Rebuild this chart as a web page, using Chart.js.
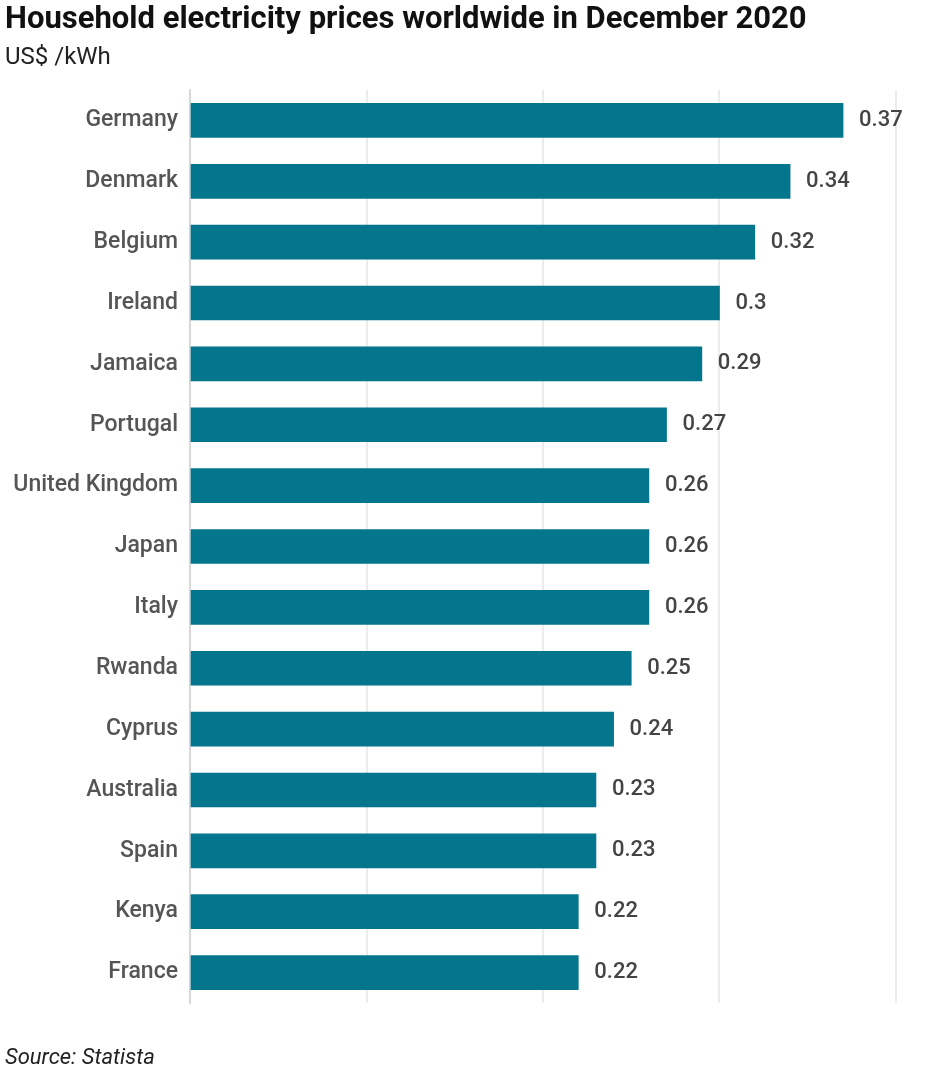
<!DOCTYPE html>
<html lang="en">
<head>
  <meta charset="UTF-8">
  <title>Household electricity prices worldwide in December 2020</title>
  <script src="https://cdn.jsdelivr.net/npm/chart.js"></script>
  <style>
    html, body { margin: 0; padding: 0; background: #fff; }
    #wrap { width: 942px; height: 1090px; }
  </style>
</head>
<body>
  <div id="wrap"><canvas id="chart"></canvas></div>
  <script>
    const countries = ['Germany', 'Denmark', 'Belgium', 'Ireland', 'Jamaica', 'Portugal',
      'United Kingdom', 'Japan', 'Italy', 'Rwanda', 'Cyprus', 'Australia', 'Spain', 'Kenya', 'France'];
    const prices = [0.37, 0.34, 0.32, 0.3, 0.29, 0.27, 0.26, 0.26, 0.26, 0.25, 0.24, 0.23, 0.23, 0.22, 0.22];
    const xTicks = [0, 0.1, 0.2, 0.3, 0.4];

    const FONT = 'Roboto, "Noto Sans", sans-serif';

    // value labels to the right of each bar
    const valueLabels = {
      id: 'valueLabels',
      afterDatasetsDraw(chart) {
        const ctx = chart.ctx;
        const meta = chart.getDatasetMeta(0);
        ctx.save();
        ctx.font = '500 22px ' + FONT;
        ctx.fillStyle = '#444';
        ctx.textBaseline = 'middle';
        meta.data.forEach((bar, i) => {
          ctx.fillText(String(prices[i]), bar.x + 16, bar.y);
        });
        ctx.restore();
      }
    };

    const sourceNote = {
      id: 'sourceNote',
      afterDraw(chart) {
        const ctx = chart.ctx;
        ctx.save();
        ctx.font = 'italic 22px ' + FONT;
        ctx.fillStyle = '#222';
        ctx.textBaseline = 'middle';
        ctx.fillText('Source: Statista', 5, 1058);
        ctx.restore();
      }
    };

    new Chart(document.getElementById('chart'), {
      type: 'bar',
      data: {
        labels: countries,
        datasets: [{
          data: prices,
          backgroundColor: '#03758c',
          barThickness: 34
        }]
      },
      options: {
        indexAxis: 'y',
        responsive: true,
        maintainAspectRatio: false,
        animation: false,
        layout: { padding: { left: 5, right: 46, top: 0, bottom: 87 } },
        plugins: {
          legend: { display: false },
          tooltip: { enabled: false },
          title: {
            display: true,
            text: 'Household electricity prices worldwide in December 2020',
            align: 'start',
            color: '#111',
            font: { family: FONT, size: 31, weight: 'bold' },
            padding: { top: 2, bottom: 2 }
          },
          subtitle: {
            display: true,
            text: 'US$ /kWh',
            align: 'start',
            color: '#222',
            font: { family: FONT, size: 24 },
            padding: { top: 2, bottom: 18 }
          }
        },
        scales: {
          x: {
            min: xTicks[0],
            max: xTicks[xTicks.length - 1],
            afterBuildTicks(scale) { scale.ticks = xTicks.map(v => ({ value: v })); },
            afterFit(scale) { scale.height = 0; },
            ticks: { display: false },
            border: { display: false },
            grid: { color: '#ececec', lineWidth: 2, drawTicks: false }
          },
          y: {
            afterFit(scale) { scale.width = 185; },
            ticks: {
              color: '#555',
              padding: 12,
              font: { family: FONT, size: 23, weight: '500' }
            },
            border: { display: true, color: '#d8d8d8', width: 2 },
            grid: { display: false, drawTicks: false }
          }
        }
      },
      plugins: [valueLabels, sourceNote]
    });
  </script>
</body>
</html>
